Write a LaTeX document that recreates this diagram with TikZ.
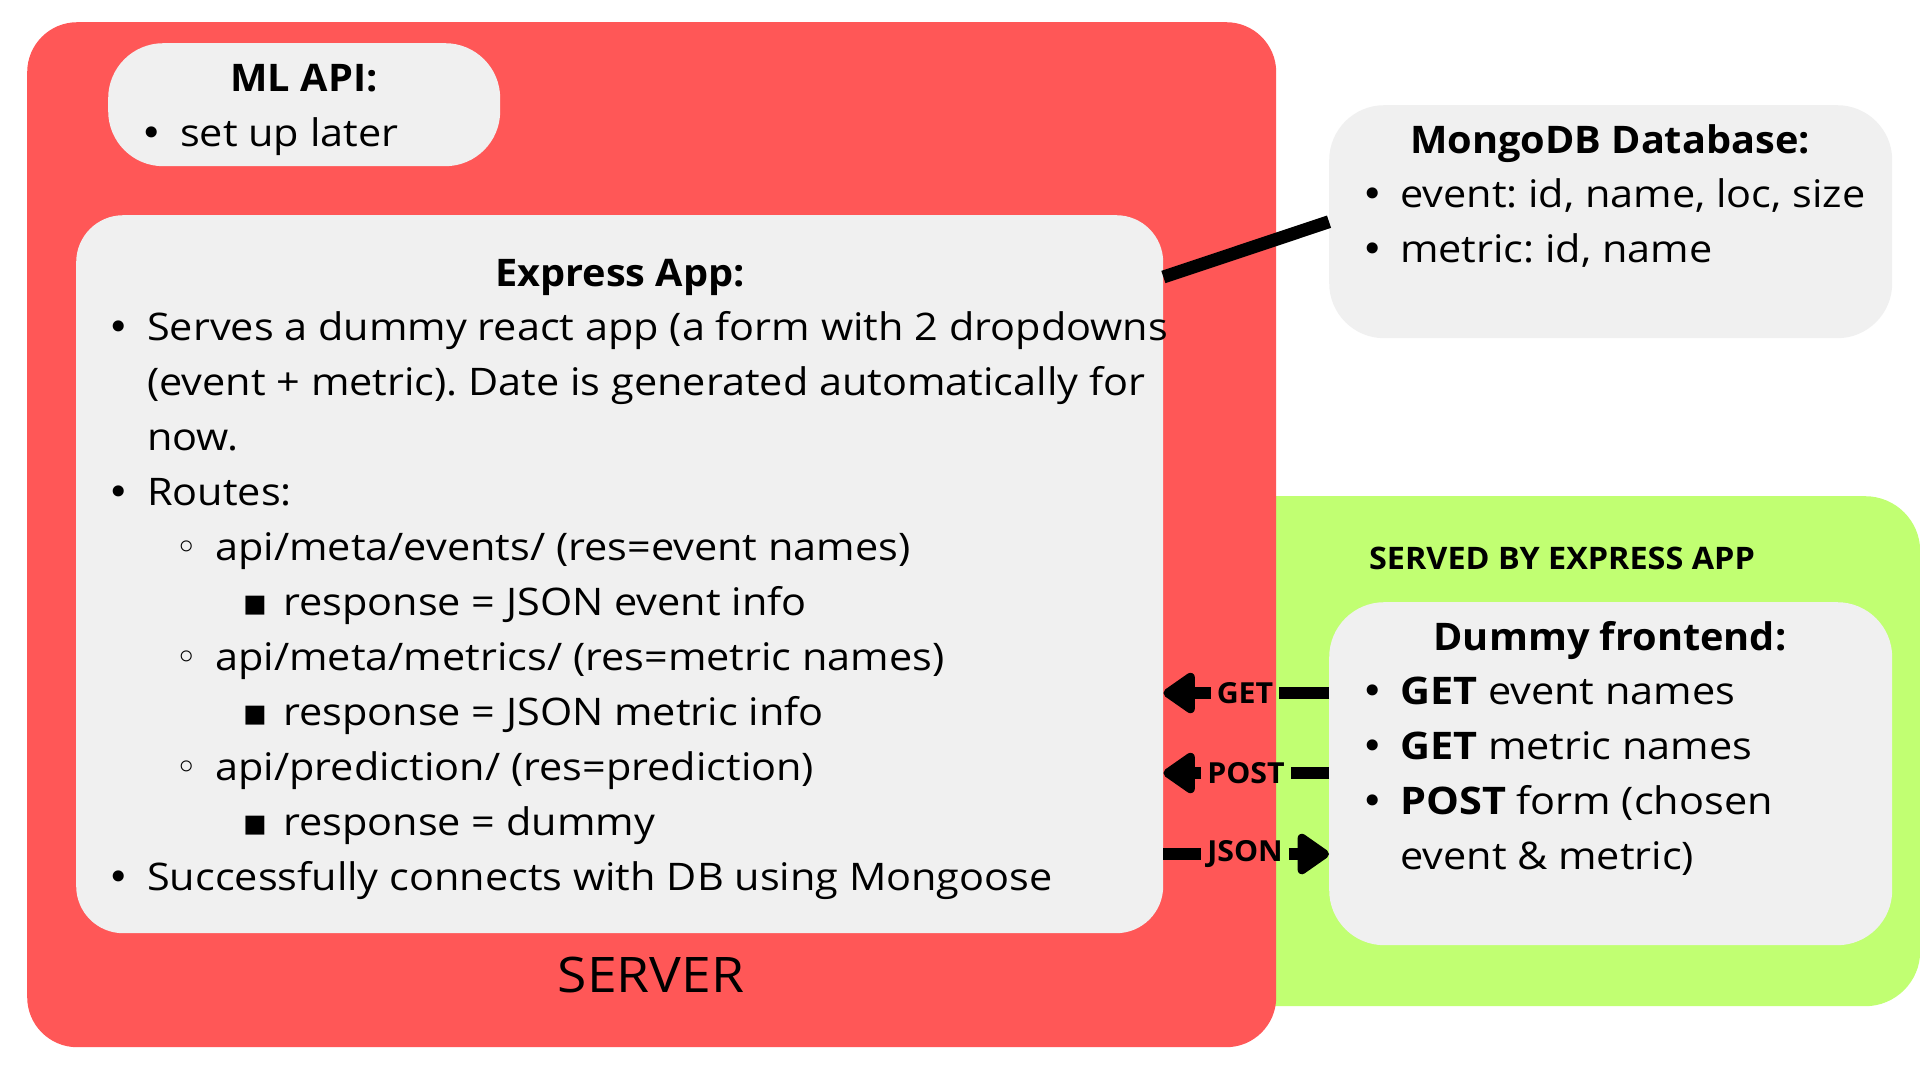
\documentclass[tikz,border=0pt]{standalone}
\usepackage{fontspec}
\setmainfont{Open Sans}[FakeStretch=1.09]
\newfontfamily\tfam{Open Sans}[FakeStretch=1.045]
\newfontfamily\symfont{DejaVu Sans}
\usetikzlibrary{arrows.meta}
\definecolor{srvred}{HTML}{FF5757}
\definecolor{fegreen}{HTML}{C1FF72}
\definecolor{boxgray}{HTML}{F0F0F0}
\newcommand\bl[1]{\llap{\makebox[56pt][c]{#1}}}
\newcommand\bdot{\bl{{\symfont •}}}
\newcommand\circb{\bl{{\symfont ◦}}}
\newcommand\sqb{\bl{{\symfont ▪}}}
\frenchspacing
\begin{document}
\begin{tikzpicture}[x=1pt,y=-1pt,
  panel/.style={fill=boxgray, draw=none, anchor=north west, inner sep=0pt},
  body/.style={anchor=base west, inner sep=0pt, font=\fontsize{38}{46}\selectfont},
  title/.style={anchor=base, inner sep=0pt, font=\fontsize{38}{46}\selectfont\tfam\bfseries},
  conn/.style={line width=13pt},
  link/.style={line width=12pt},
  tip/.style={-{Triangle[length=35pt,width=46pt,round]}},
  lbl/.style={inner xsep=6pt, inner ysep=0pt, font=\fontsize{29}{30}\selectfont\tfam\bfseries}
]
\useasboundingbox (0,0) rectangle (1920,1080);
\fill[white] (0,0) rectangle (1920,1080);
% green area (served by express app)
\node (green) [fill=fegreen, anchor=north west, minimum width=720pt, minimum height=510pt, rounded corners=55pt, inner sep=0pt] at (1200,496) {};
% server
\node (server) [fill=srvred, anchor=north west, minimum width=1249pt, minimum height=1025pt, rounded corners=50pt, inner sep=0pt] at (27,22) {};
% panels
\node (mlapi) [panel, minimum width=392pt, minimum height=123pt, rounded corners=55pt] at (108,43) {};
\node (express) [panel, minimum width=1087pt, minimum height=718pt, rounded corners=47pt] at (76,215) {};
\node (mongo) [panel, minimum width=563pt, minimum height=233pt, rounded corners=55pt] at (1329,105) {};
\node (frontend) [panel, minimum width=563pt, minimum height=343pt, rounded corners=55pt] at (1329,602) {};

% ML API text
\node (mlt) [title] at (304,91) {ML API:};
\node (ml1) [body] at (180,146) {\bdot set up later};

% Express text
\node (ext) [title] at (620,286) {Express App:};
\node (ex1) [body] at (147,340) {\bdot Serves a dummy react app (a form with 2 dropdowns};
\node (ex2) [body] at (147,395) {(event + metric). Date is generated automatically for};
\node (ex3) [body] at (147,450) {now.};
\node (ex4) [body] at (147,505) {\bdot Routes:};
\node (ex5) [body] at (215,560) {\circb api/meta/events/ (res=event names)};
\node (ex6) [body] at (283,615) {\sqb response = JSON event info};
\node (ex7) [body] at (215,670) {\circb api/meta/metrics/ (res=metric names)};
\node (ex8) [body] at (283,725) {\sqb response = JSON metric info};
\node (ex9) [body] at (215,780) {\circb api/prediction/ (res=prediction)};
\node (ex10) [body] at (283,835) {\sqb response = dummy};
\node (ex11) [body] at (147,890) {\bdot Successfully connects with DB using Mongoose};

\node (srvlbl) [anchor=base, inner sep=0pt, font=\fontsize{49}{55}\selectfont] at (651,992) {SERVER};

% Mongo text
\node (mgt) [title] at (1610,153) {MongoDB Database:};
\node (mg1) [body] at (1400,207) {\bdot event: id, name, loc, size};
\node (mg2) [body] at (1400,262) {\bdot metric: id, name};

% Frontend
\node (sby) [anchor=base, inner sep=0pt, font=\fontsize{31}{33}\selectfont\tfam\bfseries] at (1562,569) {SERVED BY EXPRESS APP};
\node (fet) [title] at (1610,650) {Dummy frontend:};
\node (fe1) [body] at (1400,704) {\bdot \textbf{GET} event names};
\node (fe2) [body] at (1400,759) {\bdot \textbf{GET} metric names};
\node (fe3) [body] at (1400,814) {\bdot \textbf{POST} form (chosen};
\node (fe4) [body] at (1400,869) {event \& metric)};

% connectors
\draw[conn] ([yshift=-62pt]express.north east) -- (mongo.west);

\node (get) [lbl] at (1245,693) {GET};
\node (post) [lbl] at (1246,773) {POST};
\node (json) [lbl] at (1245,854) {JSON};
\draw[link] (frontend.west |- get) -- (get.east);
\draw[link, tip] (get.west) -- (express.east |- get);
\draw[link] (frontend.west |- post) -- (post.east);
\draw[link, tip] (post.west) -- (express.east |- post);
\draw[link] (express.east |- json) -- (json.west);
\draw[link, tip] (json.east) -- (frontend.west |- json);
\end{tikzpicture}
\end{document}
